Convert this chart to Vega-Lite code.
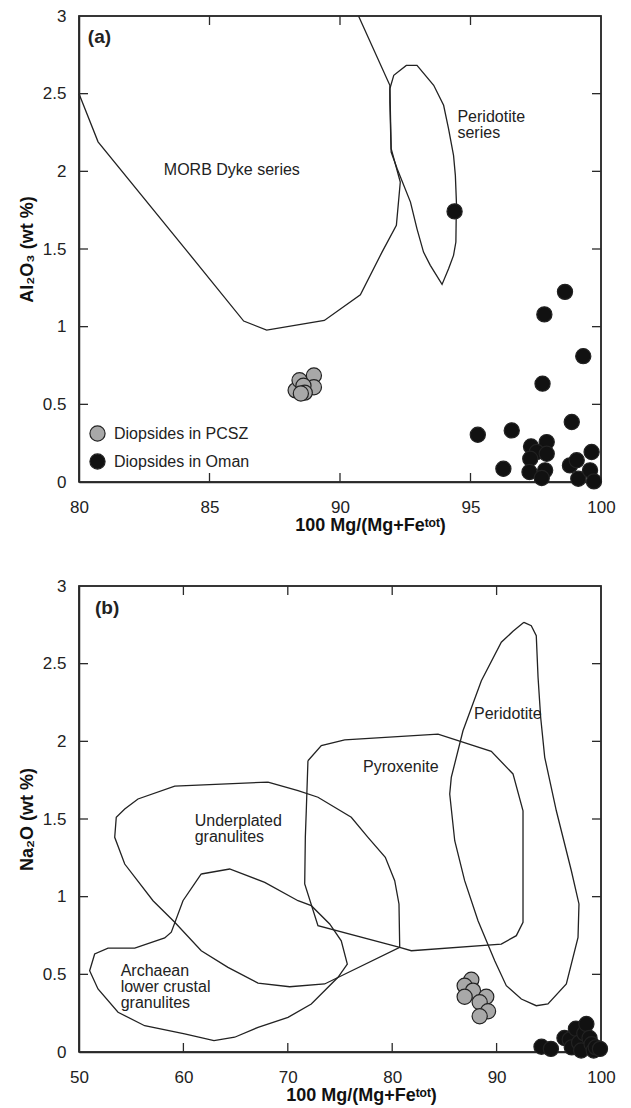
{
"$schema": "https://vega.github.io/schema/vega-lite/v6.json",
"background": "white",
"padding": {"left": 17, "top": 6, "right": 10, "bottom": 5},
"spacing": 41,
"resolve": {"scale": {"fill": "independent"}, "legend": {"fill": "independent"}},
"config": {
 "view": {"stroke": "#2a2a2a", "strokeWidth": 1.5},
 "axis": {"domain": true, "domainColor": "#2a2a2a", "domainWidth": 1.5, "ticks": false, "grid": false, "labelFont": "Liberation Sans", "labelFontSize": 17, "labelColor": "#222", "labelFlush": false, "labelOverlap": false, "titleFont": "Liberation Sans", "titleFontSize": 18, "titleFontWeight": "bold", "titleColor": "#111"},
 "text": {"font": "Liberation Sans", "fontSize": 16, "color": "#222"},
 "rule": {"stroke": "#2a2a2a", "strokeWidth": 1.3}
},
"datasets": {
 "frA": [{"i":0,"x":80,"y":0},{"i":1,"x":100,"y":0},{"i":2,"x":100,"y":3},{"i":3,"x":80,"y":3},{"i":4,"x":80,"y":0}],
 "frB": [{"i":0,"x":50,"y":0},{"i":1,"x":100,"y":0},{"i":2,"x":100,"y":3},{"i":3,"x":50,"y":3},{"i":4,"x":50,"y":0}],
 "tbA": [{"x":85,"y":0},{"x":90,"y":0},{"x":95,"y":0}],
 "ttA": [{"x":85,"y":3},{"x":90,"y":3},{"x":95,"y":3}],
 "tlA": [{"x":80,"y":0.5},{"x":80,"y":1},{"x":80,"y":1.5},{"x":80,"y":2},{"x":80,"y":2.5}],
 "trA": [{"x":100,"y":0.5},{"x":100,"y":1},{"x":100,"y":1.5},{"x":100,"y":2},{"x":100,"y":2.5}],
 "tbB": [{"x":60,"y":0},{"x":70,"y":0},{"x":80,"y":0},{"x":90,"y":0}],
 "ttB": [{"x":60,"y":3},{"x":70,"y":3},{"x":80,"y":3},{"x":90,"y":3}],
 "tlB": [{"x":50,"y":0.5},{"x":50,"y":1},{"x":50,"y":1.5},{"x":50,"y":2},{"x":50,"y":2.5}],
 "trB": [{"x":100,"y":0.5},{"x":100,"y":1},{"x":100,"y":1.5},{"x":100,"y":2},{"x":100,"y":2.5}],
 "envA": [
  {"g":"M","i":0,"x":80.0,"y":2.5},{"g":"M","i":1,"x":80.73,"y":2.19},{"g":"M","i":2,"x":84.17,"y":1.48},{"g":"M","i":3,"x":86.31,"y":1.036},{"g":"M","i":4,"x":87.19,"y":0.978},{"g":"M","i":5,"x":89.4,"y":1.04},{"g":"M","i":6,"x":90.78,"y":1.205},{"g":"M","i":7,"x":91.61,"y":1.48},{"g":"M","i":8,"x":92.16,"y":1.652},{"g":"M","i":9,"x":92.31,"y":1.931},{"g":"M","i":10,"x":91.96,"y":2.146},{"g":"M","i":11,"x":91.91,"y":2.554},{"g":"M","i":12,"x":90.71,"y":3.0},
  {"g":"P","i":0,"x":91.91,"y":2.532},{"g":"P","i":1,"x":92.06,"y":2.618},{"g":"P","i":2,"x":92.54,"y":2.682},{"g":"P","i":3,"x":92.95,"y":2.682},{"g":"P","i":4,"x":93.59,"y":2.554},{"g":"P","i":5,"x":93.97,"y":2.425},{"g":"P","i":6,"x":94.16,"y":2.274},{"g":"P","i":7,"x":94.35,"y":2.103},{"g":"P","i":8,"x":94.42,"y":1.974},{"g":"P","i":9,"x":94.46,"y":1.802},{"g":"P","i":10,"x":94.44,"y":1.545},{"g":"P","i":11,"x":94.35,"y":1.459},{"g":"P","i":12,"x":94.16,"y":1.373},{"g":"P","i":13,"x":93.91,"y":1.272},{"g":"P","i":14,"x":93.46,"y":1.395},{"g":"P","i":15,"x":93.2,"y":1.48},{"g":"P","i":16,"x":92.95,"y":1.63},{"g":"P","i":17,"x":92.7,"y":1.802},{"g":"P","i":18,"x":92.19,"y":2.017},{"g":"P","i":19,"x":91.96,"y":2.124},{"g":"P","i":20,"x":91.91,"y":2.446},{"g":"P","i":21,"x":91.91,"y":2.532}
 ],
 "envB": [
  {"g":"U","i":0,"x":68.10,"y":1.738},{"g":"U","i":1,"x":70.98,"y":1.682},{"g":"U","i":2,"x":72.89,"y":1.640},{"g":"U","i":3,"x":76.08,"y":1.511},{"g":"U","i":4,"x":77.68,"y":1.382},{"g":"U","i":5,"x":79.34,"y":1.253},{"g":"U","i":6,"x":80.24,"y":1.103},{"g":"U","i":7,"x":80.65,"y":0.953},{"g":"U","i":8,"x":80.72,"y":0.674},{"g":"U","i":9,"x":73.53,"y":0.438},{"g":"U","i":10,"x":70.18,"y":0.420},{"g":"U","i":11,"x":67.15,"y":0.444},{"g":"U","i":12,"x":64.27,"y":0.545},{"g":"U","i":13,"x":61.71,"y":0.652},{"g":"U","i":14,"x":59.17,"y":0.835},{"g":"U","i":15,"x":57.09,"y":0.974},{"g":"U","i":16,"x":54.38,"y":1.210},{"g":"U","i":17,"x":53.42,"y":1.382},{"g":"U","i":18,"x":53.57,"y":1.511},{"g":"U","i":19,"x":54.38,"y":1.564},{"g":"U","i":20,"x":55.65,"y":1.629},{"g":"U","i":21,"x":59.17,"y":1.711},{"g":"U","i":22,"x":68.10,"y":1.738},
  {"g":"A","i":0,"x":61.71,"y":1.146},{"g":"A","i":1,"x":64.43,"y":1.178},{"g":"A","i":2,"x":67.79,"y":1.092},{"g":"A","i":3,"x":70.98,"y":0.974},{"g":"A","i":4,"x":72.25,"y":0.942},{"g":"A","i":5,"x":74.01,"y":0.824},{"g":"A","i":6,"x":75.12,"y":0.716},{"g":"A","i":7,"x":75.70,"y":0.566},{"g":"A","i":8,"x":74.81,"y":0.481},{"g":"A","i":9,"x":72.25,"y":0.309},{"g":"A","i":10,"x":70.02,"y":0.223},{"g":"A","i":11,"x":67.15,"y":0.159},{"g":"A","i":12,"x":64.91,"y":0.095},{"g":"A","i":13,"x":62.93,"y":0.073},{"g":"A","i":14,"x":60.12,"y":0.116},{"g":"A","i":15,"x":56.29,"y":0.169},{"g":"A","i":16,"x":53.74,"y":0.256},{"g":"A","i":17,"x":51.82,"y":0.406},{"g":"A","i":18,"x":51.02,"y":0.523},{"g":"A","i":19,"x":51.50,"y":0.631},{"g":"A","i":20,"x":52.78,"y":0.669},{"g":"A","i":21,"x":55.34,"y":0.669},{"g":"A","i":22,"x":58.21,"y":0.734},{"g":"A","i":23,"x":58.84,"y":0.771},{"g":"A","i":24,"x":59.96,"y":0.974},{"g":"A","i":25,"x":61.71,"y":1.146},
  {"g":"X","i":0,"x":71.93,"y":1.875},{"g":"X","i":1,"x":73.21,"y":1.972},{"g":"X","i":2,"x":75.45,"y":2.010},{"g":"X","i":3,"x":84.39,"y":2.047},{"g":"X","i":4,"x":89.49,"y":1.936},{"g":"X","i":5,"x":91.57,"y":1.790},{"g":"X","i":6,"x":92.53,"y":1.553},{"g":"X","i":7,"x":92.53,"y":0.835},{"g":"X","i":8,"x":91.89,"y":0.749},{"g":"X","i":9,"x":90.45,"y":0.695},{"g":"X","i":10,"x":81.83,"y":0.652},{"g":"X","i":11,"x":80.72,"y":0.674},{"g":"X","i":12,"x":72.89,"y":0.813},{"g":"X","i":13,"x":71.62,"y":1.082},{"g":"X","i":14,"x":71.68,"y":1.384},{"g":"X","i":15,"x":71.77,"y":1.553},{"g":"X","i":16,"x":71.93,"y":1.875},
  {"g":"P","i":0,"x":92.62,"y":2.766},{"g":"P","i":1,"x":93.32,"y":2.744},{"g":"P","i":2,"x":93.80,"y":2.680},{"g":"P","i":3,"x":93.97,"y":2.412},{"g":"P","i":4,"x":94.22,"y":2.155},{"g":"P","i":5,"x":94.61,"y":1.897},{"g":"P","i":6,"x":95.72,"y":1.553},{"g":"P","i":7,"x":97.16,"y":1.167},{"g":"P","i":8,"x":97.89,"y":0.953},{"g":"P","i":9,"x":97.80,"y":0.738},{"g":"P","i":10,"x":96.68,"y":0.438},{"g":"P","i":11,"x":94.92,"y":0.309},{"g":"P","i":12,"x":93.80,"y":0.298},{"g":"P","i":13,"x":92.37,"y":0.341},{"g":"P","i":14,"x":90.93,"y":0.427},{"g":"P","i":15,"x":89.82,"y":0.588},{"g":"P","i":16,"x":88.22,"y":0.845},{"g":"P","i":17,"x":86.94,"y":1.103},{"g":"P","i":18,"x":85.99,"y":1.360},{"g":"P","i":19,"x":85.51,"y":1.661},{"g":"P","i":20,"x":85.66,"y":1.768},{"g":"P","i":21,"x":86.78,"y":2.068},{"g":"P","i":22,"x":88.54,"y":2.390},{"g":"P","i":23,"x":90.45,"y":2.638},{"g":"P","i":24,"x":91.57,"y":2.708},{"g":"P","i":25,"x":92.62,"y":2.766}
 ],
 "labA": [
  {"t":"MORB Dyke series","x":83.25,"y":2.008},
  {"t":"Peridotite","x":94.5,"y":2.350},
  {"t":"series","x":94.5,"y":2.247}
 ],
 "labB": [
  {"t":"Peridotite","x":87.84,"y":2.176},
  {"t":"Pyroxenite","x":77.2,"y":1.833},
  {"t":"Underplated","x":61.08,"y":1.488},
  {"t":"granulites","x":61.08,"y":1.385},
  {"t":"Archaean","x":53.99,"y":0.519},
  {"t":"lower crustal","x":53.99,"y":0.417},
  {"t":"granulites","x":53.99,"y":0.314}
 ],
 "ptsA": [
  {"s":"Diopsides in PCSZ","x":88.3,"y":0.59},{"s":"Diopsides in PCSZ","x":88.45,"y":0.655},{"s":"Diopsides in PCSZ","x":89.0,"y":0.686},{"s":"Diopsides in PCSZ","x":89.0,"y":0.61},{"s":"Diopsides in PCSZ","x":88.6,"y":0.62},{"s":"Diopsides in PCSZ","x":88.65,"y":0.575},{"s":"Diopsides in PCSZ","x":88.5,"y":0.57},
  {"s":"Diopsides in Oman","x":94.39,"y":1.742},{"s":"Diopsides in Oman","x":95.28,"y":0.304},{"s":"Diopsides in Oman","x":96.58,"y":0.332},{"s":"Diopsides in Oman","x":96.26,"y":0.085},{"s":"Diopsides in Oman","x":98.62,"y":1.224},{"s":"Diopsides in Oman","x":97.83,"y":1.079},{"s":"Diopsides in Oman","x":99.32,"y":0.81},{"s":"Diopsides in Oman","x":97.76,"y":0.633},{"s":"Diopsides in Oman","x":98.88,"y":0.386},{"s":"Diopsides in Oman","x":99.64,"y":0.193},{"s":"Diopsides in Oman","x":97.32,"y":0.229},{"s":"Diopsides in Oman","x":97.92,"y":0.257},{"s":"Diopsides in Oman","x":97.54,"y":0.193},{"s":"Diopsides in Oman","x":97.92,"y":0.182},{"s":"Diopsides in Oman","x":97.29,"y":0.15},{"s":"Diopsides in Oman","x":97.26,"y":0.064},{"s":"Diopsides in Oman","x":97.86,"y":0.075},{"s":"Diopsides in Oman","x":97.73,"y":0.026},{"s":"Diopsides in Oman","x":98.81,"y":0.107},{"s":"Diopsides in Oman","x":99.07,"y":0.14},{"s":"Diopsides in Oman","x":99.13,"y":0.021},{"s":"Diopsides in Oman","x":99.58,"y":0.075},{"s":"Diopsides in Oman","x":99.73,"y":0.004}
 ],
 "ptsB": [
  {"s":"Diopsides in PCSZ","x":87.58,"y":0.465},{"s":"Diopsides in PCSZ","x":86.94,"y":0.427},{"s":"Diopsides in PCSZ","x":87.74,"y":0.395},{"s":"Diopsides in PCSZ","x":86.94,"y":0.356},{"s":"Diopsides in PCSZ","x":89.01,"y":0.356},{"s":"Diopsides in PCSZ","x":88.38,"y":0.32},{"s":"Diopsides in PCSZ","x":89.18,"y":0.262},{"s":"Diopsides in PCSZ","x":88.38,"y":0.23},
  {"s":"Diopsides in Oman","x":94.3,"y":0.034},{"s":"Diopsides in Oman","x":95.2,"y":0.02},{"s":"Diopsides in Oman","x":96.5,"y":0.09},{"s":"Diopsides in Oman","x":97.0,"y":0.08},{"s":"Diopsides in Oman","x":97.2,"y":0.03},{"s":"Diopsides in Oman","x":97.6,"y":0.15},{"s":"Diopsides in Oman","x":97.9,"y":0.06},{"s":"Diopsides in Oman","x":98.1,"y":0.01},{"s":"Diopsides in Oman","x":98.4,"y":0.12},{"s":"Diopsides in Oman","x":98.6,"y":0.18},{"s":"Diopsides in Oman","x":98.9,"y":0.09},{"s":"Diopsides in Oman","x":99.1,"y":0.05},{"s":"Diopsides in Oman","x":99.3,"y":0.01},{"s":"Diopsides in Oman","x":99.5,"y":0.03},{"s":"Diopsides in Oman","x":99.9,"y":0.02}
 ]
},
"vconcat": [
 {
  "width": 522, "height": 466,
  "layer": [
   {"data": {"name": "envA"},
    "mark": {"type": "line", "stroke": "#222", "strokeWidth": 1.3},
    "encoding": {
     "x": {"field": "x", "type": "quantitative", "scale": {"domain": [80, 100], "nice": false, "zero": false},
           "axis": {"orient": "bottom", "values": [80, 85, 90, 95, 100], "labelPadding": 17, "title": "100 Mg/(Mg+Feᵗᵒᵗ)", "titlePadding": 1, "titleX": 291}},
     "y": {"field": "y", "type": "quantitative", "scale": {"domain": [0, 3], "nice": false, "zero": false},
           "axis": {"orient": "left", "values": [0, 0.5, 1, 1.5, 2, 2.5, 3], "format": "~g", "labelPadding": 13, "title": "Al₂O₃ (wt  %)", "titlePadding": 6}},
     "detail": {"field": "g"},
     "order": {"field": "i", "type": "quantitative"}
    }},
   {"data": {"name": "frA"},
    "mark": {"type": "line", "stroke": "#2a2a2a", "strokeWidth": 1.5},
    "encoding": {"x": {"field": "x", "type": "quantitative"}, "y": {"field": "y", "type": "quantitative"}, "order": {"field": "i", "type": "quantitative"}}},
   {"data": {"name": "tbA"}, "mark": {"type": "rule", "y2Offset": -9},
    "encoding": {"x": {"field": "x", "type": "quantitative"}, "y": {"field": "y", "type": "quantitative"}, "y2": {"field": "y"}}},
   {"data": {"name": "ttA"}, "mark": {"type": "rule", "y2Offset": 9},
    "encoding": {"x": {"field": "x", "type": "quantitative"}, "y": {"field": "y", "type": "quantitative"}, "y2": {"field": "y"}}},
   {"data": {"name": "tlA"}, "mark": {"type": "rule", "x2Offset": 9},
    "encoding": {"y": {"field": "y", "type": "quantitative"}, "x": {"field": "x", "type": "quantitative"}, "x2": {"field": "x"}}},
   {"data": {"name": "trA"}, "mark": {"type": "rule", "x2Offset": -9},
    "encoding": {"y": {"field": "y", "type": "quantitative"}, "x": {"field": "x", "type": "quantitative"}, "x2": {"field": "x"}}},
   {"data": {"name": "labA"},
    "mark": {"type": "text", "align": "left", "baseline": "middle"},
    "encoding": {
     "x": {"field": "x", "type": "quantitative"},
     "y": {"field": "y", "type": "quantitative"},
     "text": {"field": "t"}
    }},
   {"data": {"values": [{"t": "(a)", "x": 80.34, "y": 2.865}]},
    "mark": {"type": "text", "align": "left", "baseline": "middle", "fontWeight": "bold", "fontSize": 19},
    "encoding": {
     "x": {"field": "x", "type": "quantitative"},
     "y": {"field": "y", "type": "quantitative"},
     "text": {"field": "t"}
    }},
   {"data": {"name": "ptsA"},
    "mark": {"type": "point", "shape": "circle", "filled": true, "size": 230, "stroke": "#222", "strokeWidth": 1.2, "opacity": 1},
    "encoding": {
     "x": {"field": "x", "type": "quantitative"},
     "y": {"field": "y", "type": "quantitative"},
     "fill": {"field": "s", "type": "nominal", "scale": {"domain": ["Diopsides in PCSZ", "Diopsides in Oman"], "range": ["#a8a8a8", "#111111"]},
              "legend": {"orient": "bottom-left", "title": null, "offset": 10, "padding": 0, "labelFont": "Liberation Sans", "labelFontSize": 16, "labelColor": "#222", "rowPadding": 7, "labelOffset": 8, "symbolSize": 230, "symbolType": "circle", "symbolStrokeColor": "#222", "symbolStrokeWidth": 1.2, "symbolOpacity": 1}}
    }}
  ]
 },
 {
  "width": 522, "height": 466,
  "layer": [
   {"data": {"name": "envB"},
    "mark": {"type": "line", "stroke": "#222", "strokeWidth": 1.3},
    "encoding": {
     "x": {"field": "x", "type": "quantitative", "scale": {"domain": [50, 100], "nice": false, "zero": false},
           "axis": {"orient": "bottom", "values": [50, 60, 70, 80, 90, 100], "labelPadding": 17, "title": "100 Mg/(Mg+Feᵗᵒᵗ)", "titlePadding": 1, "titleX": 282}},
     "y": {"field": "y", "type": "quantitative", "scale": {"domain": [0, 3], "nice": false, "zero": false},
           "axis": {"orient": "left", "values": [0, 0.5, 1, 1.5, 2, 2.5, 3], "format": "~g", "labelPadding": 13, "title": "Na₂O (wt  %)", "titlePadding": 6}},
     "detail": {"field": "g"},
     "order": {"field": "i", "type": "quantitative"}
    }},
   {"data": {"name": "frB"},
    "mark": {"type": "line", "stroke": "#2a2a2a", "strokeWidth": 1.5},
    "encoding": {"x": {"field": "x", "type": "quantitative"}, "y": {"field": "y", "type": "quantitative"}, "order": {"field": "i", "type": "quantitative"}}},
   {"data": {"name": "tbB"}, "mark": {"type": "rule", "y2Offset": -9},
    "encoding": {"x": {"field": "x", "type": "quantitative"}, "y": {"field": "y", "type": "quantitative"}, "y2": {"field": "y"}}},
   {"data": {"name": "ttB"}, "mark": {"type": "rule", "y2Offset": 9},
    "encoding": {"x": {"field": "x", "type": "quantitative"}, "y": {"field": "y", "type": "quantitative"}, "y2": {"field": "y"}}},
   {"data": {"name": "tlB"}, "mark": {"type": "rule", "x2Offset": 9},
    "encoding": {"y": {"field": "y", "type": "quantitative"}, "x": {"field": "x", "type": "quantitative"}, "x2": {"field": "x"}}},
   {"data": {"name": "trB"}, "mark": {"type": "rule", "x2Offset": -9},
    "encoding": {"y": {"field": "y", "type": "quantitative"}, "x": {"field": "x", "type": "quantitative"}, "x2": {"field": "x"}}},
   {"data": {"name": "labB"},
    "mark": {"type": "text", "align": "left", "baseline": "middle"},
    "encoding": {
     "x": {"field": "x", "type": "quantitative"},
     "y": {"field": "y", "type": "quantitative"},
     "text": {"field": "t"}
    }},
   {"data": {"values": [{"t": "(b)", "x": 51.53, "y": 2.858}]},
    "mark": {"type": "text", "align": "left", "baseline": "middle", "fontWeight": "bold", "fontSize": 19},
    "encoding": {
     "x": {"field": "x", "type": "quantitative"},
     "y": {"field": "y", "type": "quantitative"},
     "text": {"field": "t"}
    }},
   {"data": {"name": "ptsB"},
    "mark": {"type": "point", "shape": "circle", "filled": true, "size": 230, "stroke": "#222", "strokeWidth": 1.2, "opacity": 1},
    "encoding": {
     "x": {"field": "x", "type": "quantitative"},
     "y": {"field": "y", "type": "quantitative"},
     "fill": {"field": "s", "type": "nominal", "scale": {"domain": ["Diopsides in PCSZ", "Diopsides in Oman"], "range": ["#a8a8a8", "#111111"]}, "legend": null}
    }}
  ]
 }
]
}
